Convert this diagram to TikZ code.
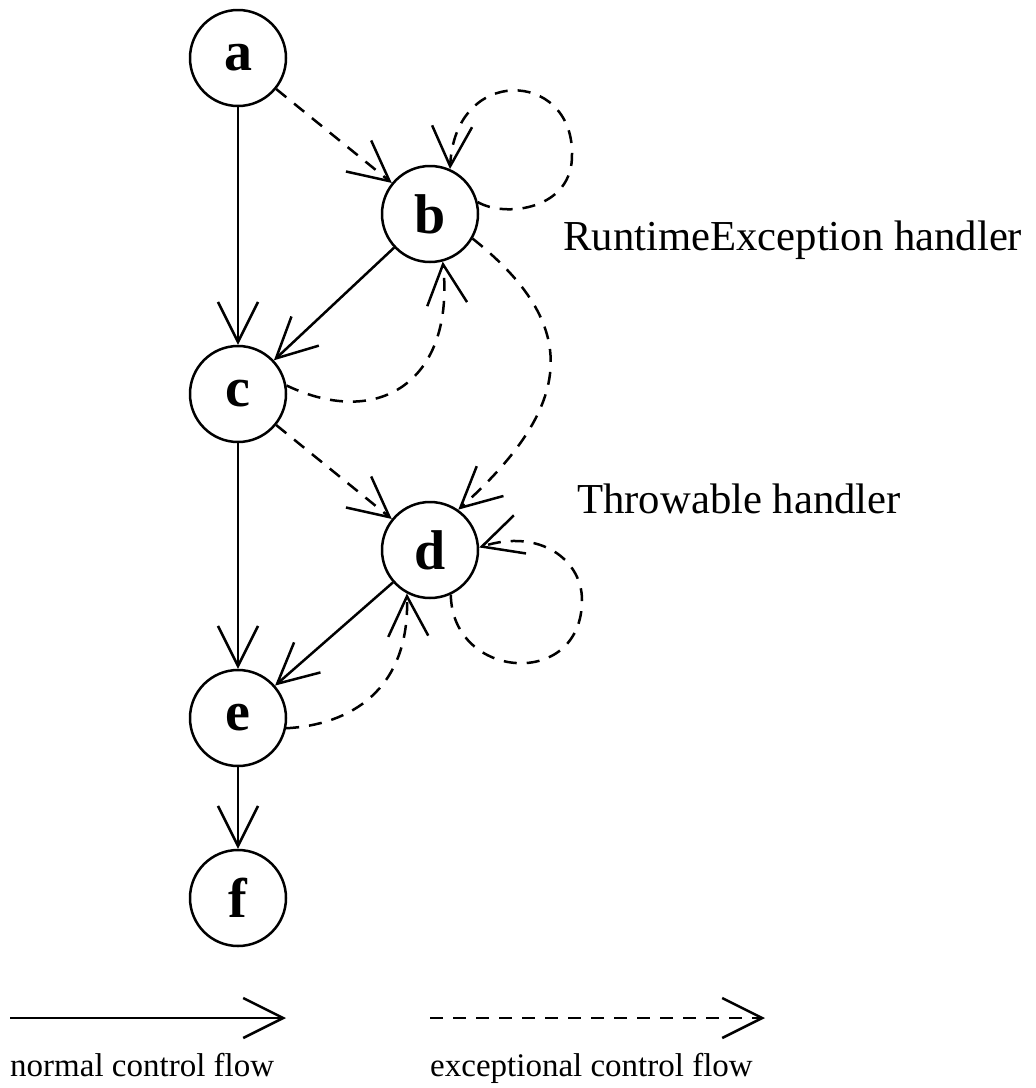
\documentclass[tikz,border=0pt]{standalone}
\usepackage{fontspec}
\setmainfont{Liberation Serif}
\usetikzlibrary{arrows.meta}
\begin{document}
\begin{tikzpicture}[x=1pt,y=-1pt,
  state/.style={circle,draw,line width=2.5pt,minimum size=96pt,inner sep=0pt,
    font=\fontsize{56}{60}\selectfont\bfseries},
  flow/.style={line width=2.5pt,-{Straight Barb[length=40pt,width=40pt]}},
  exc/.style={flow,dash pattern=on 13pt off 10pt},
  note/.style={inner sep=0pt,anchor=base west,font=\fontsize{42.7}{48}\selectfont},
  legend/.style={inner sep=0pt,anchor=base west,font=\fontsize{33}{38}\selectfont}]
\useasboundingbox (0,0) rectangle (1036,1088);

% basic blocks
\node[state] (a) at (238,58)  {a};
\node[state] (b) at (430,214) {b};
\node[state] (c) at (238,394) {c};
\node[state] (d) at (430,550) {d};
\node[state] (e) at (238,718) {e};
\node[state] (f) at (238,898) {f};

% handler labels
\node[note] (rt) at (563,250) {RuntimeException handler};
\node[note] (th) at (577,513) {Throwable handler};

% normal control flow
\draw[flow] (a) -- (c);
\draw[flow] (c) -- (e);
\draw[flow] (e) -- (f);
\draw[flow] (b) -- (c);
\draw[flow] (d) -- (e);

% exceptional control flow
\draw[exc] (a) -- (b);
\draw[exc] (c) -- (d);
\draw[exc] (c.10) .. controls (380,430) and (455,380) .. (b.-75);
\draw[exc] (e.-12) .. controls (350,725) and (410,690) .. (d.-118);
\draw[exc] (b.-30) .. controls (581,325) and (576,404) .. (d.55);

% self loops of the handlers
\coordinate (bl) at (572,153);
\draw[exc] (b.14) .. controls (505,218) and (574,210) .. (bl)
                  .. controls (572,70) and (455,65) .. (b.66);
\coordinate (dl) at (582,600);
\draw[exc] (d.-65) .. controls (452,680) and (582,690) .. (dl)
                   .. controls (582,560) and (540,528) .. (d.3);

% legend
\coordinate (n0) at (10,1018);
\coordinate (n1) at (286,1018);
\draw[flow] (n0) -- (n1);
\node[legend] (nl) at (10,1076) {normal control flow};
\coordinate (x0) at (430,1018);
\coordinate (x1) at (765,1018);
\draw[exc] (x0) -- (x1);
\node[legend] (xl) at (430,1076) {exceptional control flow};
\end{tikzpicture}
\end{document}
